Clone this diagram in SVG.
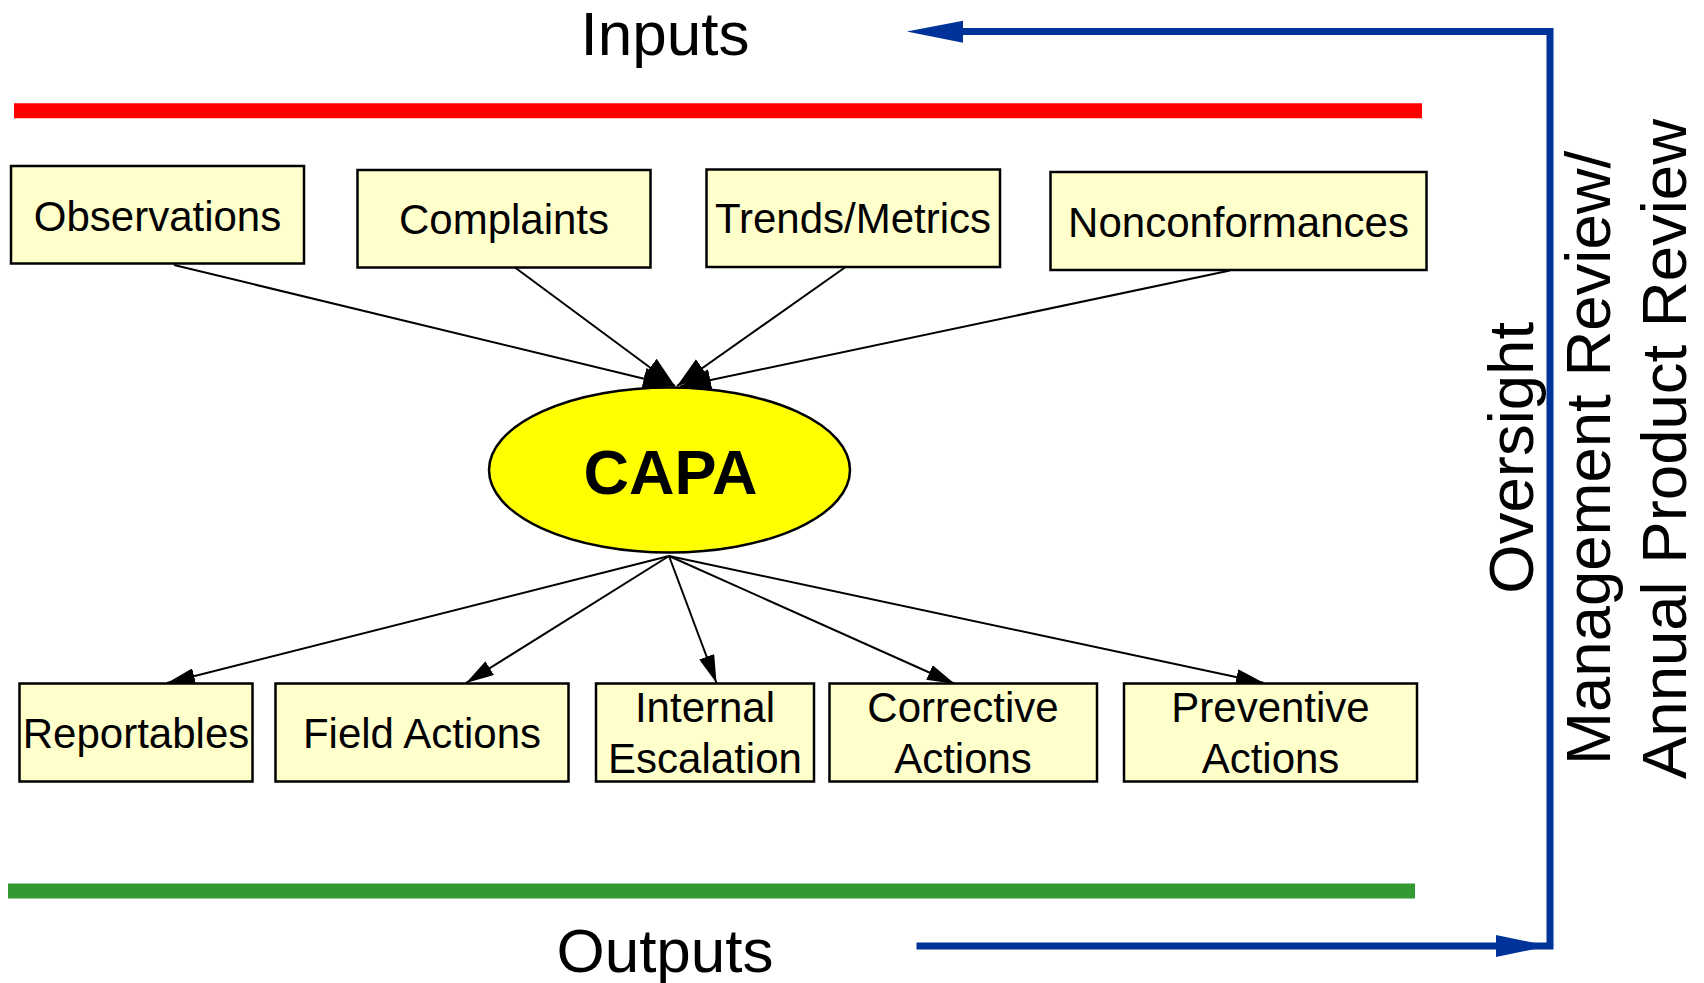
<svg xmlns="http://www.w3.org/2000/svg" width="1704" height="983" viewBox="0 0 1704 983">
  <style>
    .box { fill: #ffffcc; stroke: #000; stroke-width: 2.5; }
    .lbl { font-family: "Liberation Sans", Arial, sans-serif; font-size: 42px; fill: #000; text-anchor: middle; }
    .big { font-family: "Liberation Sans", Arial, sans-serif; font-size: 62px; fill: #000; text-anchor: middle; }
    .edge { stroke: #000; stroke-width: 2; fill: none; marker-end: url(#arrow); }
    .edge-in { stroke: #000; stroke-width: 2; fill: none; marker-end: url(#arrow-in); }
    .flow { stroke: #003399; stroke-width: 7; fill: none; }
  </style>
  <defs>
    <marker id="arrow" markerUnits="userSpaceOnUse" viewBox="0 0 28 16" refX="28" refY="8" markerWidth="28" markerHeight="16" orient="auto">
      <path d="M0,0 L28,8 L0,16 z" fill="#000"/>
    </marker>
    <marker id="arrow-in" markerUnits="userSpaceOnUse" viewBox="0 0 31 22" refX="31" refY="11" markerWidth="31" markerHeight="22" orient="auto">
      <path d="M0,0 L31,11 L0,22 z" fill="#000"/>
    </marker>
  </defs>

  <rect width="1704" height="983" fill="#fff"/>

  <!-- section headings and bands -->
  <text class="big" x="665" y="55">Inputs</text>
  <line x1="14" y1="110.8" x2="1422" y2="110.8" stroke="#ff0000" stroke-width="15"/>
  <line x1="8" y1="891" x2="1415" y2="891" stroke="#339933" stroke-width="15"/>
  <text class="big" x="665" y="971.5">Outputs</text>

  <!-- oversight feedback loop -->
  <g id="oversight">
    <polyline class="flow" points="916.5,946 1550,946 1550,31.5 958,31.5" stroke-linejoin="miter"/>
    <polygon points="906.7,31.5 963,20.7 963,42.7" fill="#003399"/>
    <polygon points="1549.5,946 1496,935 1496,957" fill="#003399"/>
    <text class="big" transform="translate(1533,449) rotate(-90)" style="font-size:63.5px">
      <tspan x="0" dy="0">Oversight</tspan>
      <tspan x="0" dy="76.5">Management Review/</tspan>
      <tspan x="0" dy="76.5">Annual Product Review</tspan>
    </text>
  </g>

  <!-- connectors -->
  <g id="connectors">
    <line class="edge-in" x1="174" y1="265" x2="674" y2="386"/>
    <line class="edge-in" x1="515" y1="267.5" x2="675" y2="386"/>
    <line class="edge-in" x1="847" y1="266" x2="677" y2="386"/>
    <line class="edge-in" x1="1230" y1="270.5" x2="680" y2="386.5"/>
    <line class="edge" x1="669" y1="556" x2="167" y2="683"/>
    <line class="edge" x1="669" y1="556" x2="466" y2="683"/>
    <line class="edge" x1="669" y1="556" x2="716.5" y2="683"/>
    <line class="edge" x1="669" y1="556" x2="955" y2="684"/>
    <line class="edge" x1="669" y1="556" x2="1264" y2="683"/>
  </g>

  <!-- input nodes -->
  <g id="observations">
    <rect class="box" x="11" y="166" width="293" height="97.5"/>
    <text class="lbl" x="157.5" y="230.7">Observations</text>
  </g>
  <g id="complaints">
    <rect class="box" x="357.5" y="170" width="293" height="97.5"/>
    <text class="lbl" x="504" y="234.3">Complaints</text>
  </g>
  <g id="trends-metrics">
    <rect class="box" x="706.5" y="169.5" width="293.5" height="97.5"/>
    <text class="lbl" x="853" y="233">Trends/Metrics</text>
  </g>
  <g id="nonconformances">
    <rect class="box" x="1050.5" y="172" width="376" height="98"/>
    <text class="lbl" x="1238.5" y="237.3">Nonconformances</text>
  </g>

  <!-- central process -->
  <g id="capa">
    <ellipse cx="669.5" cy="470" rx="180.5" ry="82.5" fill="#ffff00" stroke="#000" stroke-width="2.5"/>
    <text x="670.5" y="494" text-anchor="middle" font-family="Liberation Sans, Arial, sans-serif" font-size="63" font-weight="bold">CAPA</text>
  </g>

  <!-- output nodes -->
  <g id="reportables">
    <rect class="box" x="19.5" y="683.5" width="233" height="98"/>
    <text class="lbl" x="136" y="748.3">Reportables</text>
  </g>
  <g id="field-actions">
    <rect class="box" x="275.5" y="683.5" width="293" height="98"/>
    <text class="lbl" x="422" y="748.3">Field Actions</text>
  </g>
  <g id="internal-escalation">
    <rect class="box" x="596" y="683.5" width="218" height="98"/>
    <text class="lbl" x="705" y="722.3">Internal</text>
    <text class="lbl" x="705" y="773.3">Escalation</text>
  </g>
  <g id="corrective-actions">
    <rect class="box" x="829.5" y="683.5" width="267.5" height="98"/>
    <text class="lbl" x="963" y="722.3">Corrective</text>
    <text class="lbl" x="963" y="773.3">Actions</text>
  </g>
  <g id="preventive-actions">
    <rect class="box" x="1124" y="683.5" width="293" height="98"/>
    <text class="lbl" x="1270.5" y="722.3">Preventive</text>
    <text class="lbl" x="1270.5" y="773.3">Actions</text>
  </g>
</svg>
